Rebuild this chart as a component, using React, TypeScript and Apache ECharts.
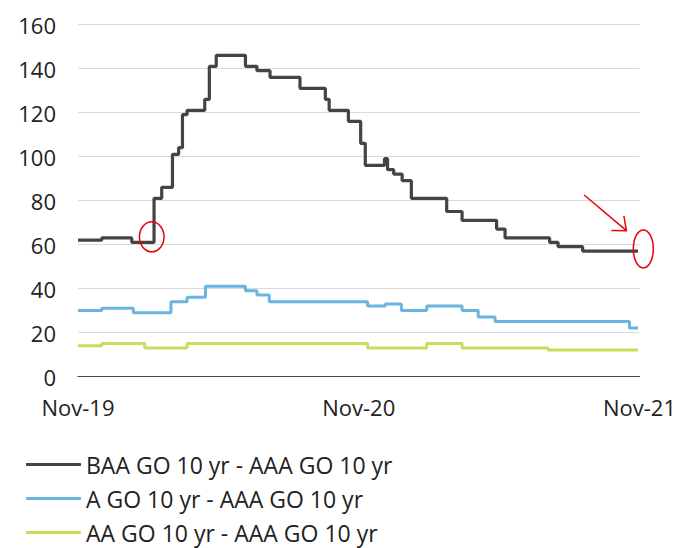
import React, { useEffect, useRef } from 'react';
import * as echarts from 'echarts';

// Spread of lower-rated 10y GO yields over AAA, in basis points
const START = Date.UTC(2019, 10, 1);
const END = Date.UTC(2021, 10, 1);
const DAY = 86400000;

const xTickLabels = ['Nov-19', 'Nov-20', 'Nov-21'];

const seriesNames = [
  'BAA GO 10 yr - AAA GO 10 yr',
  'A GO 10 yr - AAA GO 10 yr',
  'AA GO 10 yr - AAA GO 10 yr',
];
const seriesColors = ['#444444', '#6ab4e0', '#cdda5c'];

// Each series is stored as the dates its level changes and the new level
const baaDates = [
  '2019-11-01', '2019-12-02', '2020-01-10', '2020-02-08', '2020-02-18', '2020-03-03',
  '2020-03-11', '2020-03-16', '2020-03-22', '2020-04-14', '2020-04-20', '2020-04-29',
  '2020-06-06', '2020-06-21', '2020-07-08', '2020-08-16', '2020-09-18', '2020-09-23',
  '2020-10-18', '2020-11-03', '2020-11-09', '2020-12-04', '2020-12-08', '2020-12-16',
  '2020-12-27', '2021-01-08', '2021-02-23', '2021-03-15', '2021-04-29', '2021-05-10',
  '2021-07-07', '2021-07-18', '2021-08-19', '2021-10-30',
];
const baaValues = [
  62, 63, 61, 81, 86, 101,
  104, 119, 121, 126, 141, 146,
  141, 139, 136, 131, 126, 121,
  116, 106, 96, 99, 94, 92,
  89, 81, 75, 71, 67, 63,
  61, 59, 57, 57,
];

const aDates = [
  '2019-11-01', '2019-12-02', '2020-01-12', '2020-03-01', '2020-03-22', '2020-04-15',
  '2020-06-06', '2020-06-21', '2020-07-07', '2020-11-12', '2020-12-05', '2020-12-26',
  '2021-01-28', '2021-03-15', '2021-04-05', '2021-04-27', '2021-10-19', '2021-10-30',
];
const aValues = [
  30, 31, 29, 34, 36, 41,
  39, 37, 34, 32, 33, 30,
  32, 30, 27, 25, 22, 22,
];

const aaDates = [
  '2019-11-01', '2019-12-02', '2020-01-27', '2020-03-22', '2020-11-12',
  '2021-01-28', '2021-03-15', '2021-07-05', '2021-10-30',
];
const aaValues = [14, 15, 13, 15, 13, 15, 13, 12, 12];

// Red call-outs: rings around the pre-COVID low and the latest reading, plus an arrow
const rings = [
  { date: '2020-02-05', value: 63.5, rx: 12.3, ry: 15 },
  { date: '2021-11-06', value: 58, rx: 10, ry: 19 },
];
const arrowFrom = { date: '2021-08-21', value: 82.5 };
const arrowTo = { date: '2021-10-15', value: 66.3 };

const FONT = '"Open Sans", "Noto Sans", sans-serif';
const TEXT = '#222222';

const dayOffset = (d: string) => {
  const [y, m, day] = d.split('-').map(Number);
  return (Date.UTC(y, m - 1, day) - START) / DAY;
};
const totalDays = (END - START) / DAY;

const toPoints = (dates: string[], values: number[]) =>
  dates.map((d, i) => [dayOffset(d), values[i]]);

export default function App() {
  const ref = useRef<HTMLDivElement>(null);

  useEffect(() => {
    if (!ref.current) return;
    const chart = echarts.init(ref.current, undefined, { renderer: 'svg' });

    const lineData = [
      toPoints(baaDates, baaValues),
      toPoints(aDates, aValues),
      toPoints(aaDates, aaValues),
    ];
    const widths = [3.2, 3, 3];

    chart.setOption({
      animation: false,
      backgroundColor: '#ffffff',
      textStyle: { fontFamily: FONT },
      grid: { left: 78, right: 37.5, top: 24.5, bottom: 171.5, containLabel: false },
      xAxis: {
        type: 'value',
        min: 0,
        max: totalDays,
        interval: totalDays / 2,
        axisLine: { show: true, lineStyle: { color: '#4a4a4a', width: 1.2 } },
        axisTick: { show: false },
        splitLine: { show: false },
        axisLabel: {
          margin: 19,
          fontSize: 22,
          color: TEXT,
          fontFamily: FONT,
          showMinLabel: true,
          showMaxLabel: true,
          formatter: (_v: number, i: number) => xTickLabels[i] ?? '',
        },
      },
      yAxis: {
        type: 'value',
        min: 0,
        max: 160,
        interval: 20,
        axisLine: { show: false },
        axisTick: { show: false },
        splitLine: { lineStyle: { color: '#d9d9d9', width: 1 } },
        axisLabel: { margin: 22, fontSize: 22, color: TEXT, fontFamily: FONT },
      },
      legend: {
        orient: 'vertical',
        left: 26,
        top: 453,
        padding: 0,
        icon: 'roundRect',
        itemWidth: 55,
        itemHeight: 3,
        itemGap: 11,
        textStyle: { fontSize: 23, lineHeight: 23, color: TEXT, fontFamily: FONT },
        data: seriesNames,
      },
      series: seriesNames.map((name, i) => ({
        name,
        type: 'line',
        step: 'end',
        symbol: 'none',
        data: lineData[i],
        lineStyle: { color: seriesColors[i], width: widths[i] },
        itemStyle: { color: seriesColors[i] },
        z: 10 - i,
      })),
    });

    const px = (date: string, value: number) =>
      chart.convertToPixel({ xAxisIndex: 0, yAxisIndex: 0 }, [dayOffset(date), value]) as number[];

    const red = '#e8000b';
    const graphics: any[] = rings.map((r) => {
      const [cx, cy] = px(r.date, r.value);
      return {
        type: 'ellipse',
        silent: true,
        z: 100,
        shape: { cx, cy, rx: r.rx, ry: r.ry },
        style: { fill: 'none', stroke: red, lineWidth: 1.5 },
      };
    });

    const [x1, y1] = px(arrowFrom.date, arrowFrom.value);
    const [x2, y2] = px(arrowTo.date, arrowTo.value);
    const ang = Math.atan2(y1 - y2, x1 - x2);
    const head = 15;
    const spread = (40 * Math.PI) / 180;
    const leg = (a: number) => [x2 + head * Math.cos(a), y2 + head * Math.sin(a)];
    graphics.push(
      {
        type: 'line',
        silent: true,
        z: 100,
        shape: { x1, y1, x2, y2 },
        style: { stroke: red, lineWidth: 1.5 },
      },
      {
        type: 'polyline',
        silent: true,
        z: 100,
        shape: { points: [leg(ang - spread), [x2, y2], leg(ang + spread)] },
        style: { stroke: red, lineWidth: 1.5, fill: 'none' },
      }
    );
    chart.setOption({ graphic: graphics });

    return () => chart.dispose();
  }, []);

  return (
    <div
      ref={ref}
      style={{ position: 'fixed', left: 0, top: 0, width: 679, height: 548, background: '#fff' }}
    />
  );
}
